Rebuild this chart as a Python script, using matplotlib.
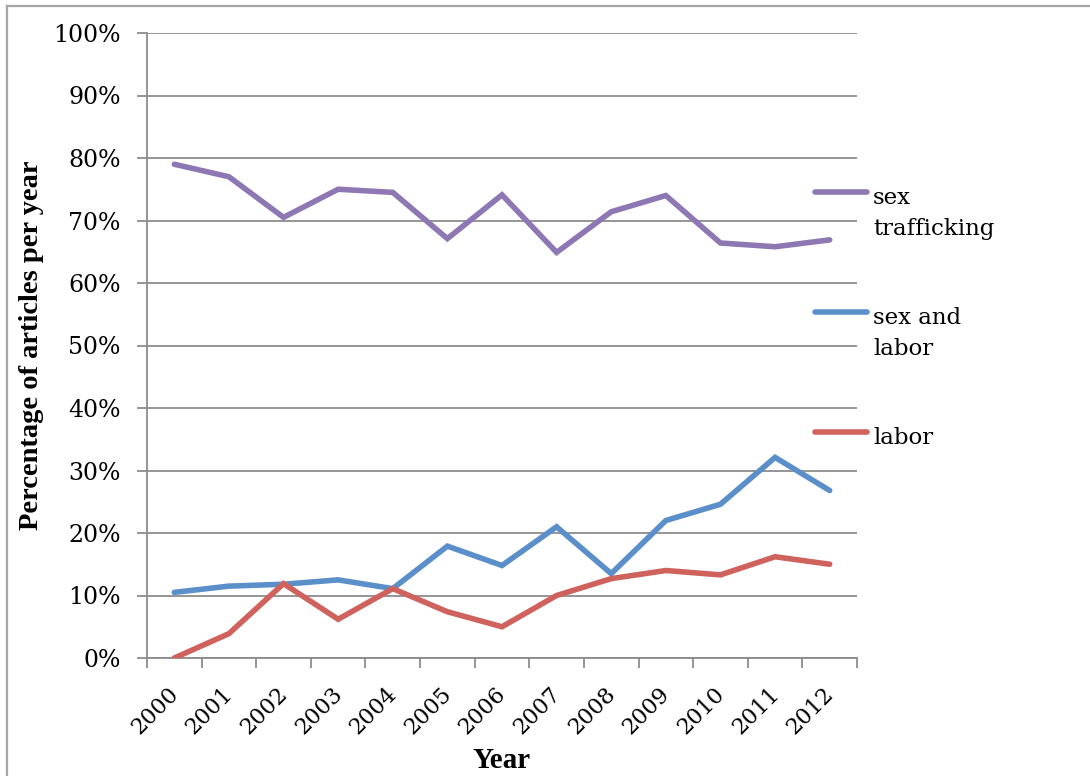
import matplotlib
matplotlib.use("Agg")
import matplotlib.pyplot as plt
import matplotlib.transforms as mtransforms
from matplotlib.lines import Line2D

years = ["2000", "2001", "2002", "2003", "2004", "2005", "2006",
         "2007", "2008", "2009", "2010", "2011", "2012"]
sex_trafficking = [79.0, 77.0, 70.5, 75.0, 74.5, 67.1, 74.1,
                   64.9, 71.4, 74.0, 66.4, 65.8, 66.9]
sex_and_labor = [10.5, 11.5, 11.8, 12.5, 11.1, 17.9, 14.8,
                 21.0, 13.5, 22.0, 24.6, 32.1, 26.8]
labor = [0.0, 3.9, 11.9, 6.2, 11.1, 7.4, 5.0,
         10.0, 12.7, 14.0, 13.3, 16.2, 15.0]
series_names = ["sex\ntrafficking", "sex and\nlabor", "labor"]
colors = ["#8d78b4", "#5b8fca", "#cf625d"]
yticks = list(range(0, 101, 10))

W, H = 1090, 776
fig = plt.figure(figsize=(W / 100, H / 100), dpi=100)
fig.patch.set_facecolor("white")

# outer frame (top and left edges)
frame_col = "#a6a6a6"
fig.add_artist(Line2D([7 / W, 1.0], [1 - 6 / H, 1 - 6 / H], color=frame_col, lw=1.6))
fig.add_artist(Line2D([7 / W, 7 / W], [0.0, 1 - 6 / H], color=frame_col, lw=1.6))

left, right, top, bottom = 147, 857, 33, 658
ax = fig.add_axes([left / W, 1 - bottom / H, (right - left) / W, (bottom - top) / H])

x = list(range(len(years)))
data = [sex_trafficking, sex_and_labor, labor]
for vals, c in zip(data, colors):
    ax.plot(x, vals, color=c, lw=4.0, solid_capstyle="round",
            solid_joinstyle="miter", zorder=3)

ax.set_xlim(-0.5, len(years) - 0.5)
ax.set_ylim(0, 100)

grid_col = "#8c8c8c"
ax.set_yticks(yticks)
ax.set_yticklabels([f"{v}%" for v in yticks], fontsize=17,
                   family="DejaVu Serif")
ax.yaxis.grid(True, color=grid_col, lw=1.3)
ax.set_axisbelow(True)

# category labels at centers, tick marks between categories
ax.set_xticks(x)
ax.set_xticklabels(years, rotation=45, ha="right", va="top",
                   rotation_mode="anchor", fontsize=16, family="DejaVu Serif")
ax.tick_params(axis="x", length=0, pad=14)
shift = mtransforms.ScaledTranslation(-7 / 100, -5 / 100, fig.dpi_scale_trans)
for lab in ax.get_xticklabels():
    lab.set_transform(lab.get_transform() + shift)
ax.set_xticks([i - 0.5 for i in range(len(years) + 1)], minor=True)
ax.tick_params(axis="x", which="minor", length=7, width=1.3, color=grid_col, direction="out")
ax.tick_params(axis="y", length=7, width=1.3, color=grid_col, direction="out", pad=12)

for s in ["top", "right"]:
    ax.spines[s].set_visible(False)
for s in ["left", "bottom"]:
    ax.spines[s].set_color(grid_col)
    ax.spines[s].set_linewidth(1.3)

ax.set_ylabel("Percentage of articles per year", fontsize=20.5,
              fontweight="bold", family="Liberation Serif")
ax.yaxis.set_label_coords(-(147 - 32) / (right - left), 0.5)
ax.set_xlabel("Year", fontsize=21, fontweight="bold",
              family="Liberation Serif")
ax.xaxis.set_label_coords(0.5, -(760 - bottom) / (bottom - top))
ax.xaxis.label.set_va("center")
ax.yaxis.label.set_va("center")

# legend on the right
leg_y = [192, 312, 432]
for name, c, yy in zip(series_names, colors, leg_y):
    fy = 1 - yy / H
    fig.add_artist(Line2D([815 / W, 867 / W], [fy, fy], color=c, lw=4.0,
                          solid_capstyle="round"))
    fig.text(873 / W, 1 - (yy - 5) / H, name, fontsize=16.5,
             family="DejaVu Serif", va="top", ha="left", linespacing=1.55)

fig.savefig("out.png", dpi=100, facecolor="white")
